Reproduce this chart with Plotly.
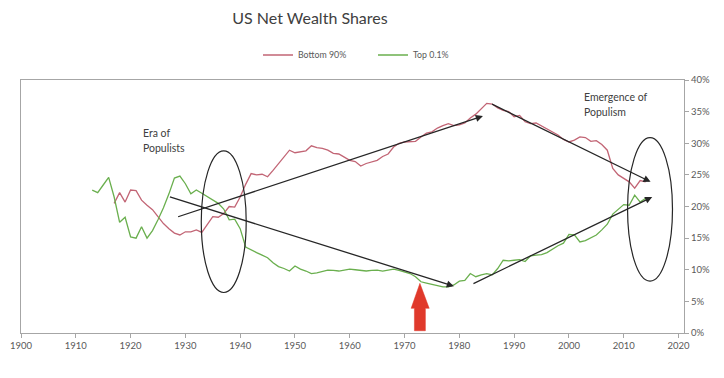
import plotly.graph_objects as go

# ---- data ----
years_top = list(range(1913, 2015))
top_01 = [22.6, 22.2, 23.4, 24.6, 21.5, 17.5, 18.3, 15.2, 15.0, 16.8,
          15.0, 16.2, 17.9, 19.8, 22.0, 24.5, 24.8, 23.6, 22.0, 22.6,
          22.1, 21.6, 21.0, 20.5, 19.6, 17.9, 18.0, 16.5, 13.6, 13.1,
          12.7, 12.3, 11.9, 11.1, 10.5, 10.2, 9.8, 10.6, 10.1, 9.8,
          9.4, 9.5, 9.7, 9.95, 9.9, 9.8, 9.95, 10.1, 10.0, 9.95,
          9.8, 9.9, 9.95, 9.8, 9.9, 10.1, 9.9, 9.7, 9.4, 8.9,
          8.1, 7.9, 7.7, 7.4, 7.3, 7.3, 7.6, 8.2, 8.3, 9.4,
          8.9, 9.2, 9.4, 9.2, 10.2, 11.5, 11.4, 11.5, 11.6, 11.3,
          12.2, 12.3, 12.4, 12.7, 13.3, 13.8, 14.2, 15.6, 15.5, 14.4,
          14.6, 15.0, 15.5, 16.3, 17.2, 18.8, 19.6, 20.3, 20.2, 21.8,
          20.7, 21.3]

years_bottom = list(range(1917, 2015))
bottom_90 = [20.5, 22.2, 20.7, 22.6, 22.5, 21.0, 20.2, 19.5, 18.4, 17.3,
             16.5, 15.8, 15.5, 16.0, 16.0, 16.3, 15.9, 17.2, 18.4, 18.3,
             18.9, 20.0, 19.9, 21.5, 23.5, 25.2, 25.0, 25.1, 24.7, 25.7,
             26.8, 27.9, 28.9, 28.5, 28.6, 28.8, 29.6, 29.3, 29.2, 28.9,
             28.4, 28.3, 27.8, 27.3, 27.1, 26.4, 26.8, 27.0, 27.3, 27.9,
             28.3, 29.4, 30.0, 30.2, 30.2, 30.3, 31.0, 31.6, 31.8, 32.4,
             32.8, 33.1, 32.8, 32.9, 33.2, 34.0, 34.6, 35.4, 36.3, 36.2,
             35.6, 35.2, 35.0, 34.2, 34.4, 33.4, 33.1, 33.2, 32.7, 32.2,
             31.8, 31.3, 30.6, 30.2, 30.5, 31.0, 30.9, 30.3, 30.4, 29.8,
             28.9, 26.0, 25.0, 24.4, 23.9, 22.9, 24.1, 23.9]

x_ticks = list(range(1900, 2021, 10))
y_ticks = list(range(0, 41, 5))

# annotation geometry in data units (year, percent)
trend_arrows = [  # (x_start, y_start, x_end, y_end)
    (1928.4, 18.3, 1984.3, 34.3),
    (1926.9, 21.6, 1979.0, 7.4),
    (1985.7, 36.3, 2014.9, 23.9),
    (1982.3, 7.7, 2015.2, 21.5),
]
ellipses = [  # (x0, y0, x1, y1)
    (1932.9, 6.4, 1941.1, 28.8),
    (2010.7, 8.2, 2018.9, 30.9),
]
red_arrow = [(1972.8, 7.85), (1974.5, 3.9), (1973.8, 3.9), (1973.8, 0.36),
             (1971.8, 0.36), (1971.8, 3.9), (1971.2, 3.9)]
labels = [
    (1921.9, 31.6, "Era of"),
    (1921.9, 29.2, "Populists"),
    (2002.3, 37.3, "Emergence of"),
    (2002.3, 34.9, "Populism"),
]

FONT = "Lato"
GRAY = "#595959"
AXIS = "#A6A6A6"
W, H = 708, 362  # page body adds an 8px margin on the top/left

fig = go.Figure()
fig.add_trace(go.Scatter(x=years_bottom, y=bottom_90, name="Bottom 90%",
                         mode="lines", line=dict(color="#C26575", width=1.3)))
fig.add_trace(go.Scatter(x=years_top, y=top_01, name="Top 0.1%",
                         mode="lines", line=dict(color="#6AAF4E", width=1.3)))

shapes = []
for (x0, y0, x1, y1) in ellipses:
    shapes.append(dict(type="circle", xref="x", yref="y", x0=x0, y0=y0, x1=x1, y1=y1,
                       line=dict(color="#262626", width=1.2)))
path = "M " + " L ".join(f"{px},{py}" for px, py in red_arrow) + " Z"
shapes.append(dict(type="path", xref="x", yref="y", path=path,
                   fillcolor="#E0392B", line=dict(color="#E0392B", width=0.5)))

annotations = []
for (xs, ys, xe, ye) in trend_arrows:
    annotations.append(dict(x=xe, y=ye, ax=xs, ay=ys, xref="x", yref="y",
                            axref="x", ayref="y", text="", showarrow=True,
                            arrowhead=2, arrowsize=1.1, arrowwidth=1.3,
                            arrowcolor="#262626", standoff=0))
for (lx, ly, txt) in labels:
    annotations.append(dict(x=lx, y=ly, xref="x", yref="y", text=txt,
                            showarrow=False, xanchor="left", yanchor="middle",
                            font=dict(family=FONT, size=10.5, color="#404040")))

fig.update_layout(
    width=W, height=H,
    margin=dict(l=13, r=32, t=72, b=37, autoexpand=False),
    paper_bgcolor="white", plot_bgcolor="white",
    font=dict(family=FONT, color=GRAY),
    title=dict(text="US Net Wealth Shares", xref="container", yref="container",
               x=302 / W, y=1 - 10 / H, xanchor="center", yanchor="middle",
               font=dict(family=FONT, size=16, color="#404040")),
    showlegend=True,
    legend=dict(orientation="h", xref="container", yref="container",
                x=250 / W, y=1 - 47 / H, xanchor="left", yanchor="middle",
                font=dict(family=FONT, size=8.8, color=GRAY),
                entrywidth=70, entrywidthmode="pixels", bgcolor="rgba(0,0,0,0)"),
    shapes=shapes,
    annotations=annotations,
)
fig.update_xaxes(range=[1900, 2021], tickvals=x_ticks, ticktext=[str(v) for v in x_ticks],
                 automargin=False,
                 showgrid=False, zeroline=False, showline=True, linecolor=AXIS, linewidth=1,
                 mirror=True, ticks="outside", ticklen=4, tickcolor=AXIS,
                 tickfont=dict(family=FONT, size=9.5, color=GRAY))
fig.update_yaxes(range=[0, 40], side="right", tickvals=y_ticks,
                 ticktext=[f"{v}%" for v in y_ticks], automargin=False,
                 showgrid=False, zeroline=False, showline=True, linecolor=AXIS, linewidth=1,
                 mirror=True, ticks="outside", ticklen=4, tickcolor=AXIS,
                 tickfont=dict(family=FONT, size=9.5, color=GRAY))

fig.write_html("out.html")
